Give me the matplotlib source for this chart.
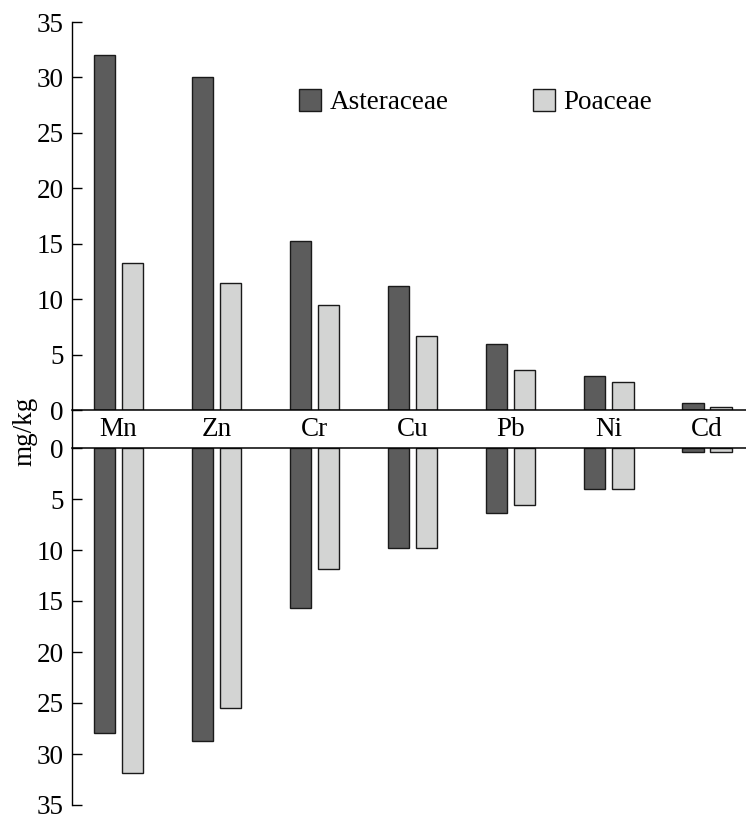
import numpy as np
import matplotlib
matplotlib.use("Agg")
import matplotlib.pyplot as plt
from matplotlib.lines import Line2D

plt.rcParams['font.family'] = ['Liberation Serif', 'DejaVu Serif']

# Данные (мг/кг)
elementos = ['Mn', 'Zn', 'Cr', 'Cu', 'Pb', 'Ni', 'Cd']
aster_top = [32.0, 30.0, 15.2, 11.2, 5.95, 3.1, 0.6]
poa_top = [13.25, 11.5, 9.5, 6.7, 3.6, 2.5, 0.25]
aster_bot = [27.9, 28.7, 15.7, 9.8, 6.4, 4.0, 0.4]
poa_bot = [31.9, 25.5, 11.85, 9.8, 5.6, 4.0, 0.35]
yticks = [0, 5, 10, 15, 20, 25, 30, 35]

c_dark = '#5c5c5c'
c_light = '#d3d4d3'
edge = '#1a1a1a'
fs = 19.5

W, H = 746, 821
fig = plt.figure(figsize=(W / 100, H / 100), dpi=100)

left = 72 / W
ax_top = fig.add_axes([left, 1 - 410 / H, 1 - left, (410 - 22) / H])
ax_bot = fig.add_axes([left, 1 - 805 / H, 1 - left, (805 - 448) / H])

x = np.arange(len(elementos))
w = 0.22
off = 0.143

ax_top.bar(x - off, aster_top, w, color=c_dark, edgecolor=edge, linewidth=1.0,
           label='Asteraceae')
ax_top.bar(x + off, poa_top, w, color=c_light, edgecolor=edge, linewidth=1.0,
           label='Poaceae')
ax_bot.bar(x - off, aster_bot, w, color=c_dark, edgecolor=edge, linewidth=1.0)
ax_bot.bar(x + off, poa_bot, w, color=c_light, edgecolor=edge, linewidth=1.0)

ax_top.set_ylim(0, 35)
ax_bot.set_ylim(35, 0)

for ax in (ax_top, ax_bot):
    ax.set_xlim(-0.474, 6.40)
    ax.set_yticks(yticks)
    ax.set_xticks([])
    ax.tick_params(axis='y', direction='in', length=7, width=1.0,
                   pad=6, labelsize=fs)
    ax.spines['right'].set_visible(False)
    ax.spines['left'].set_linewidth(1.0)

ax_top.spines['top'].set_visible(False)
ax_top.spines['bottom'].set_linewidth(1.1)
ax_bot.spines['bottom'].set_visible(False)
ax_bot.spines['top'].set_linewidth(1.1)

# línea vertical en la franja de etiquetas
fig.add_artist(Line2D([left, left], [1 - 410 / H, 1 - 448 / H],
                      transform=fig.transFigure, color='black', linewidth=1.0))

# etiquetas de elementos en la franja
for i, el in enumerate(elementos):
    ax_top.text(x[i], -1.75, el, ha='center', va='center', fontsize=fs,
                clip_on=False)

fig.text(25 / W, 1 - 431 / H, 'mg/kg', rotation=90, ha='center', va='center',
         fontsize=fs)

ax_top.legend(loc='center left', bbox_to_anchor=(299 / W, 1 - 102 / H),
              bbox_transform=fig.transFigure, ncol=2, frameon=False,
              fontsize=fs, borderpad=0, borderaxespad=0,
              handlelength=0.81, handleheight=0.85, handletextpad=0.33,
              columnspacing=3.1)

fig.savefig('out.png', dpi=100)
